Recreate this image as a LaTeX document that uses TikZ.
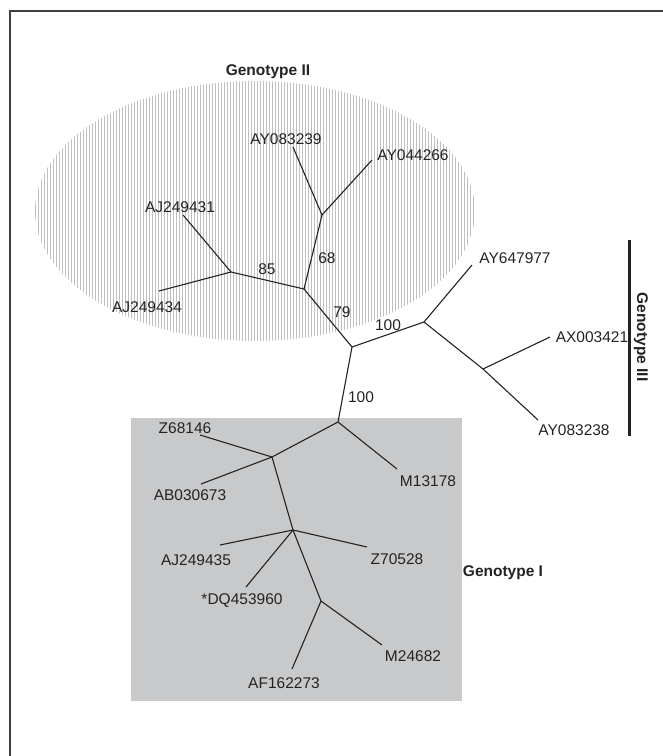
\documentclass[tikz,border=0pt]{standalone}
\usepackage{fontspec}
\setmainfont{Liberation Sans}
\usepackage{xcolor}
\definecolor{boxgray}{RGB}{200, 201, 203}
\definecolor{hatchgray}{RGB}{192, 192, 196}
\definecolor{inkgray}{RGB}{35, 35, 35}

\begin{document}
\begin{tikzpicture}[x=1pt,y=-1pt,
        branch/.style={inkgray,line width=1.1pt},
        leaf/.style={inkgray,inner sep=0pt,font=\fontsize{15.5}{17}\selectfont},
        boot/.style={leaf},
        group/.style={inkgray,inner sep=0pt,font=\fontsize{15.5}{17}\selectfont\bfseries}]
        \useasboundingbox (0,0) rectangle (663,756);

        % Frame (top and left edges only)
        \draw[black!75,line width=1.5pt] (10,756) -- (10,11) -- (663,11);

        % Genotype II: hatched ellipse
        \begin{scope}
            \clip (255,211) ellipse [x radius=220, y radius=130];
            \foreach \x in {35,38,...,476} {
                \draw[hatchgray,line width=1pt] (\x,80) -- (\x,342);
            }
        \end{scope}

        % Genotype I: gray box
        \fill[boxgray] (131,418) rectangle (462,701);

        % Inner nodes of the tree
        \coordinate (nA) at (322,215);
        \coordinate (nB) at (231,272);
        \coordinate (nC) at (304,289);
        \coordinate (nD) at (352,347);
        \coordinate (nE) at (424,322);
        \coordinate (nF) at (483,369);
        \coordinate (nG) at (338,422);
        \coordinate (nH) at (272,457);
        \coordinate (nI) at (293,530);
        \coordinate (nJ) at (321,601);

        % Inner branches
        \draw[branch] (nA) -- (nC) -- (nD) -- (nE) -- (nF);
        \draw[branch] (nB) -- (nC);
        \draw[branch] (nD) -- (nG) -- (nH) -- (nI) -- (nJ);

        % Leaves: parent / end of branch / label position / name / text
        \foreach \p/\ex/\ey/\lx/\ly/\id/\txt in {
            nA/293/147/286/139/ay239/AY083239,
            nA/372/160/413/155/ay266/AY044266,
            nB/183/215/180/207/aj431/AJ249431,
            nB/159/291/147/307/aj434/AJ249434,
            nE/472/265/515/258/ay977/AY647977,
            nF/550/337/592/337/ax421/AX003421,
            nF/538/420/574/430/ay238/AY083238,
            nG/397/469/428/481/m178/M13178,
            nH/200/435/185/428/z146/Z68146,
            nH/201/484/190/495/ab673/AB030673,
            nI/220/545/196/560/aj435/AJ249435,
            nI/367/547/397/559/z528/Z70528,
            nI/246/587/242/601/dq960/*DQ453960,
            nJ/382/645/413/656/m682/M24682,
            nJ/292/669/284/683/af273/AF162273} {
            \coordinate (\id) at (\ex,\ey);
            \draw[branch] (\p) -- (\id);
            \node[leaf] (\id-label) at (\lx,\ly) {\txt};
        }

        % Bootstrap values
        \node[boot] (b85) at (267,269) {85};
        \node[boot] (b68) at (327,258) {68};
        \node[boot] (b79) at (342,312) {79};
        \node[boot] (b100a) at (388,325) {100};
        \node[boot] (b100b) at (361,397) {100};

        % Genotype labels
        \node[group] (gII) at (268,72) {Genotype II};
        \node[group] (gI) at (503,573) {Genotype I};
        \draw[inkgray,line width=3pt] (629,240) -- (629,436);
        \node[group,rotate=-90] (gIII) at (641,337) {Genotype III};
    \end{tikzpicture}
\end{document}
